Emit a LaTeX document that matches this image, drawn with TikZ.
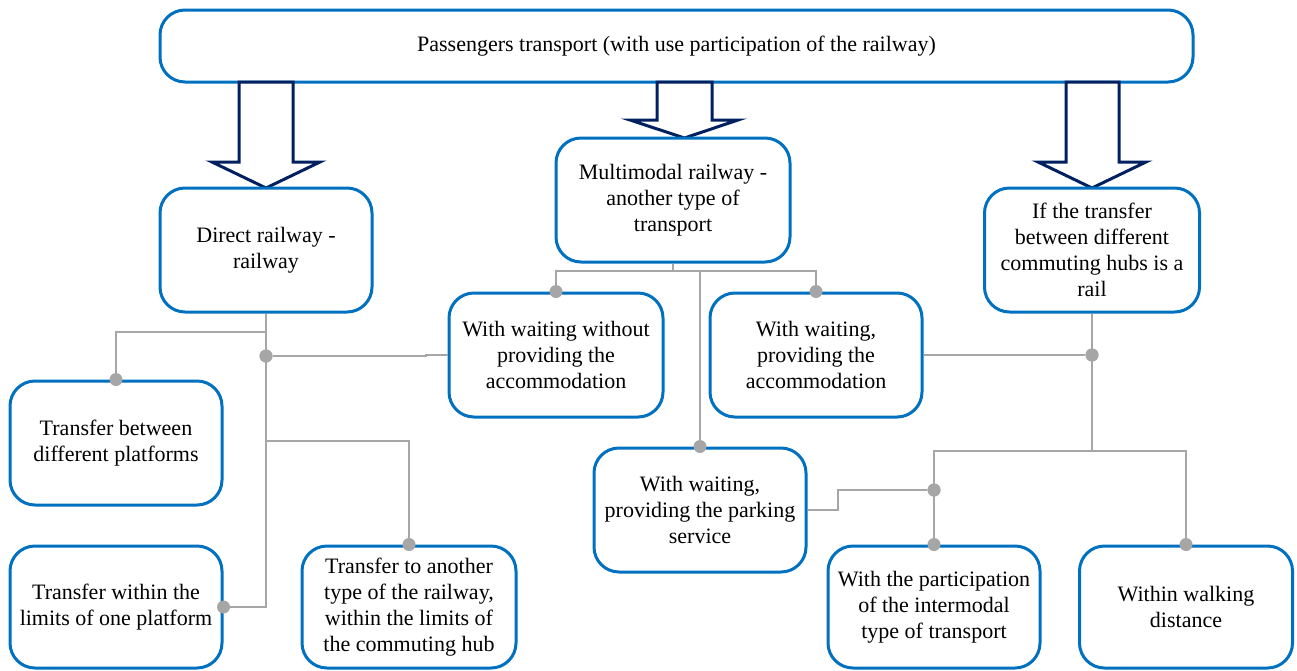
\documentclass[tikz,border=0pt]{standalone}
\usepackage{fontspec}
\setmainfont{Liberation Serif}
\usetikzlibrary{calc, shapes, backgrounds}
\definecolor{boxblue}{RGB}{0,112,192}
\definecolor{navyarrow}{RGB}{0,32,96}
\definecolor{linegray}{RGB}{166,166,166}

\begin{document}
\begin{tikzpicture}[x=1pt, y=-1pt,
		box/.style={draw=boxblue, line width=3pt, rounded corners=25pt, fill=white, align=center,
			minimum width=212pt, minimum height=124pt, inner sep=2pt, font=\rmfamily\fontsize{22}{26}\selectfont},
		bigarrow/.style={draw=navyarrow, line width=3pt, fill=white, line join=miter},
		link/.style={draw=linegray, line width=1.8pt},
		dot/.style={circle, fill=linegray, inner sep=0pt, minimum size=13pt}]
		\useasboundingbox (0,0) rectangle (1297,670);
		\node[box, minimum width=1033pt, minimum height=72pt] at (676.5,46) (top) {Passengers transport (with use participation of the railway)};
		\draw[bigarrow] (239,82) -- (239,162) -- (212,162) -- (266,188) -- (320,162) -- (293,162) -- (293,82) -- cycle;
		\draw[bigarrow] (657,82) -- (657,120) -- (630,120) -- (684.5,138) -- (738,120) -- (712,120) -- (712,82) -- cycle;
		\draw[bigarrow] (1066,82) -- (1066,162) -- (1038,162) -- (1092,188) -- (1146,162) -- (1119,162) -- (1119,82) -- cycle;
		\node[box] at (266,250) (direct) {Direct railway -\\railway};
		\node[box, minimum width=234pt] at (673,200) (multi) {Multimodal railway -\\another type of\\transport};
		\node[box, minimum width=215pt] at (1092,250) (hubs) {If the transfer\\between different\\commuting hubs is a\\rail};
		\node[box] at (116,443) (platforms) {Transfer between\\different platforms};
		\node[box, minimum height=122pt] at (116,607) (oneplat) {Transfer within the\\limits of one platform};
		\node[box, minimum width=214pt, minimum height=122pt] at (409,607) (otherrail) {Transfer to another\\type of the railway,\\within the limits of\\the commuting hub};
		\node[box, minimum width=214pt] at (556,355) (noaccom) {With waiting without\\providing the\\accommodation};
		\node[box] at (816,355) (accom) {With waiting,\\providing the\\accommodation};
		\node[box] at (700,510) (parking) {With waiting,\\providing the parking\\service};
		\node[box, minimum height=122pt] at (934,607) (intermodal) {With the participation\\of the intermodal\\type of transport};
		\node[box, minimum width=213pt, minimum height=122pt] at (1186,607) (walking) {Within walking\\distance};
		% junctions
		\coordinate (jl1) at (266,332);
		\coordinate (jl2) at (266,441);
		\coordinate (jw) at (426,356);
		\coordinate (jm) at (673,271);
		\coordinate (jr) at (1092,451);
		\coordinate (jp) at (838,510);
		\node[dot] at (266,356) (dl) {};
		\node[dot] at (1092,355) (dr) {};
		\node[dot] at (934,490) (dx) {};
		% left branch
		\draw[link] (direct.south) -- (direct.south |- oneplat.east) -- (oneplat.east);
		\draw[link] (jl1) -| (platforms.north);
		\draw[link] (jl2) -| (otherrail.north);
		\draw[link] (dl) -- (jw) |- (noaccom.west);
		% middle branch
		\draw[link] (multi.south) -- (jm);
		\draw[link] (noaccom.north) |- (jm) -| (accom.north);
		\draw[link] (parking.north) -- (parking.north |- jm);
		% right branch
		\draw[link] (hubs.south) -- (jr);
		\draw[link] (accom.east) -- (dr);
		\draw[link] (intermodal.north) |- (jr) -| (walking.north);
		\draw[link] (parking.east) -- (jp) |- (dx);
		\node[dot] at (dl) {};
		\node[dot] at (dr) {};
		\node[dot] at (dx) {};
		\node[dot] at (platforms.north) (d1) {};
		\node[dot] at (oneplat.east) (d2) {};
		\node[dot] at (otherrail.north) (d3) {};
		\node[dot] at (noaccom.north) (d4) {};
		\node[dot] at (accom.north) (d5) {};
		\node[dot] at (parking.north) (d6) {};
		\node[dot] at (intermodal.north) (d7) {};
		\node[dot] at (walking.north) (d8) {};
		\end{tikzpicture}
\end{document}
